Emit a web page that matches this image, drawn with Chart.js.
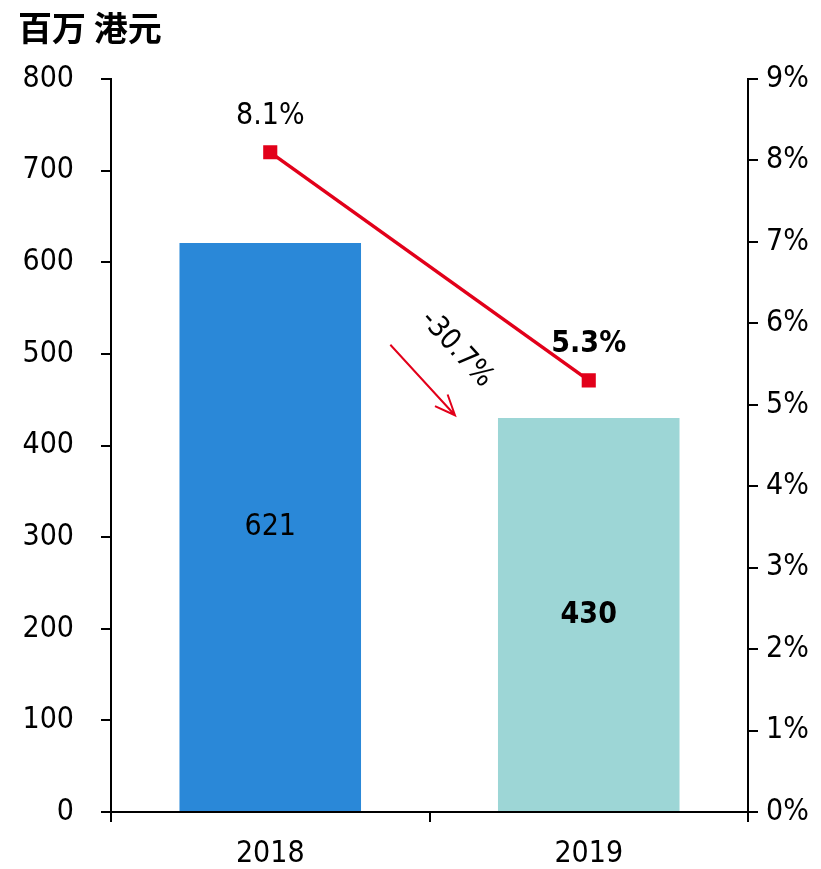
<!DOCTYPE html>
<html>
<head>
<meta charset="utf-8">
<script src="https://cdn.jsdelivr.net/npm/chart.js@4/dist/chart.umd.min.js"></script>
<style>
  html, body { margin: 0; padding: 0; background: #fff; }
  #wrap { width: 821px; height: 869px; }
</style>
</head>
<body>
<div id="wrap"><canvas id="c" width="821" height="869"></canvas></div>
<script>
// data
const years      = ['2018', '2019'];
const profit     = [621, 430];           // 百万港元
const margin     = [8.1, 5.3];           // %
const barColors  = ['#2a88d8', '#9dd6d6'];
const changeText = '-30.7%';
const leftTicks  = [0, 100, 200, 300, 400, 500, 600, 700, 800];
const rightTicks = [0, 1, 2, 3, 4, 5, 6, 7, 8, 9];

const FONT = "'DejaVu Sans Condensed', 'Liberation Sans Narrow', sans-serif";
const RED  = '#e2001a';

// value labels, the change arrow
const annotate = {
  id: 'annotate',
  afterDatasetsDraw(chart) {
    const { ctx, scales } = chart;
    const x = scales.x, y = scales.y, y1 = scales.y1;
    ctx.save();
    ctx.fillStyle = '#000';
    ctx.textAlign = 'center';
    ctx.textBaseline = 'middle';

    // bar values, in the middle of the bars
    profit.forEach((v, i) => {
      ctx.font = (i === 1 ? 'bold ' : '') + '30px ' + FONT;
      ctx.fillText(String(v), x.getPixelForValue(i), y.getPixelForValue(v / 2));
    });

    // margin labels above the points
    margin.forEach((v, i) => {
      ctx.font = (i === 1 ? 'bold ' : '') + '30px ' + FONT;
      ctx.fillText(v.toFixed(1) + '%', x.getPixelForValue(i), y1.getPixelForValue(v) - 36);
    });

    // arrow between the bars
    const x0 = x.getPixelForValue(0.377), yA = y.getPixelForValue(510);
    const x1 = x.getPixelForValue(0.58),  yB = y.getPixelForValue(433);
    ctx.strokeStyle = RED;
    ctx.lineWidth = 2;
    ctx.beginPath();
    ctx.moveTo(x0, yA);
    ctx.lineTo(x1, yB);
    const ang = Math.atan2(yB - yA, x1 - x0);
    ctx.moveTo(x1 - 22 * Math.cos(ang - 0.4), yB - 22 * Math.sin(ang - 0.4));
    ctx.lineTo(x1, yB);
    ctx.lineTo(x1 - 22 * Math.cos(ang + 0.4), yB - 22 * Math.sin(ang + 0.4));
    ctx.stroke();

    ctx.translate(x.getPixelForValue(0.585), y.getPixelForValue(505));
    ctx.rotate(ang);
    ctx.font = '29px ' + FONT;
    ctx.fillText(changeText, 0, 0);
    ctx.restore();
  }
};

const tickFont = { family: FONT, size: 30 };

new Chart(document.getElementById('c'), {
  type: 'bar',
  data: {
    labels: years,
    datasets: [
      {
        type: 'line',
        data: margin,
        yAxisID: 'y1',
        borderColor: RED,
        backgroundColor: RED,
        borderWidth: 3.5,
        pointStyle: 'rect',
        pointRadius: 7.5,
        tension: 0,
        order: 0
      },
      {
        data: profit,
        yAxisID: 'y',
        backgroundColor: barColors,
        barPercentage: 0.57,
        categoryPercentage: 1,
        order: 1
      }
    ]
  },
  options: {
    responsive: false,
    animation: false,
    devicePixelRatio: 1,
    layout: { padding: { left: 18, right: 0, top: 0, bottom: 0 } },
    plugins: {
      legend: { display: false },
      tooltip: { enabled: false },
      title: {
        display: true,
        text: '百万 港元',
        align: 'start',
        color: '#000',
        font: { family: "'Noto Sans CJK SC', sans-serif", size: 34, weight: 'bold', lineHeight: 1 },
        padding: { top: 11, bottom: 34 }
      }
    },
    scales: {
      x: {
        offset: true,
        grid: { offset: true, drawOnChartArea: false, drawTicks: true, tickLength: 10, color: '#000', lineWidth: 2 },
        border: { display: true, color: '#000', width: 2 },
        ticks: { color: '#000', font: tickFont, padding: 14 },
        afterFit(s) { s.height = 57; }
      },
      y: {
        position: 'left',
        min: 0, max: 800,
        afterBuildTicks(s) { s.ticks = leftTicks.map(v => ({ value: v })); },
        grid: { drawOnChartArea: false, tickLength: 10, color: '#000', lineWidth: 2 },
        border: { display: true, color: '#000', width: 2 },
        ticks: { color: '#000', font: tickFont, padding: 27 },
        afterFit(s) { s.width = 93; }
      },
      y1: {
        position: 'right',
        min: 0, max: 9,
        afterBuildTicks(s) { s.ticks = rightTicks.map(v => ({ value: v })); },
        grid: { drawOnChartArea: false, tickLength: 10, color: '#000', lineWidth: 2 },
        border: { display: true, color: '#000', width: 2 },
        ticks: { color: '#000', font: tickFont, padding: 8, callback: v => v + '%' },
        afterFit(s) { s.width = 73; }
      }
    }
  },
  plugins: [annotate]
});
</script>
</body>
</html>
